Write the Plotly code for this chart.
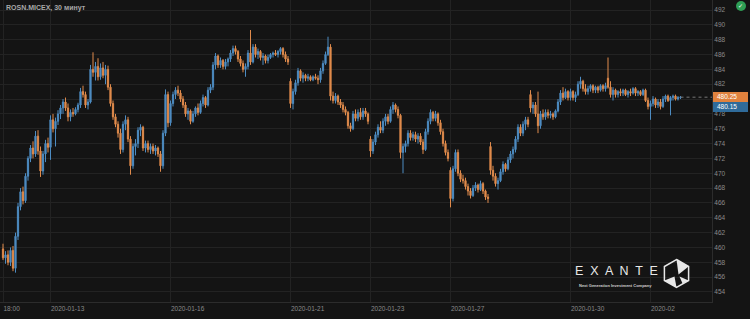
import plotly.graph_objects as go

# ---- data (30-minute candles, ROSN.MICEX) ----
open_ = [
459.8, 458.6, 459.0, 458.0, 459.6, 457.2, 461.5, 465.5, 467.5, 466.3,
469.6, 472.0, 473.4, 472.6, 475.0, 473.0, 470.3, 472.6, 474.0, 473.5,
477.2, 476.0, 477.0, 478.0, 478.8, 479.6, 478.8, 477.6, 478.2, 478.0,
478.6, 479.2, 481.0, 480.6, 479.2, 479.6, 484.0, 483.6, 484.4, 483.0,
484.2, 483.2, 484.0, 481.6, 479.4, 477.6, 476.6, 475.4, 473.2, 476.6,
477.2, 474.6, 471.0, 473.6, 474.0, 475.8, 476.2, 473.4, 474.0, 473.2,
473.6, 473.0, 473.4, 472.6, 471.0, 475.4, 480.6, 476.8, 479.4, 480.6,
481.2, 480.8, 480.0, 479.2, 478.0, 478.4, 477.0, 478.0, 478.8, 478.2,
479.4, 480.2, 479.2, 481.2, 481.6, 484.6, 485.8, 484.6, 485.2, 484.4,
485.0, 485.4, 486.2, 486.8, 486.4, 485.4, 484.8, 484.0, 484.4, 486.2,
485.0, 487.0, 486.0, 486.4, 485.6, 485.8, 485.2, 485.6, 486.0, 486.2,
486.0, 486.4, 486.8, 486.0, 485.4, 482.4, 479.4, 481.0, 482.2, 483.8,
482.8, 483.2, 482.8, 483.0, 482.6, 483.0, 482.8, 482.6, 483.8, 484.8,
486.0, 487.0, 480.4, 479.8, 480.4, 479.6, 479.2, 478.6, 478.2, 476.4,
476.0, 478.0, 477.4, 478.2, 477.6, 478.4, 478.0, 474.6, 473.0, 474.2,
475.2, 476.2, 475.8, 477.0, 477.6, 477.0, 478.6, 479.2, 478.6, 477.8,
472.8, 473.6, 474.0, 475.4, 474.8, 475.2, 474.6, 475.0, 474.2, 473.2,
475.6, 477.0, 478.2, 477.4, 478.0, 476.8, 475.6, 474.0, 472.8, 470.4,
466.6, 470.6, 472.8, 470.0, 469.2, 469.0, 468.2, 467.6, 467.0, 468.0,
468.4, 467.8, 468.6, 467.6, 466.8, 473.6, 470.4, 469.6, 468.6, 469.0,
470.2, 471.2, 470.6, 471.8, 472.6, 473.2, 474.6, 476.2, 475.4, 476.6,
477.2, 480.6, 478.8, 479.2, 478.0, 476.4, 478.0, 477.6, 478.2, 477.8,
478.0, 477.6, 478.4, 479.6, 480.8, 480.2, 481.0, 480.2, 481.0, 480.2,
480.6, 482.0, 482.4, 481.4, 481.0, 481.4, 481.8, 481.2, 481.6, 481.2,
481.8, 481.4, 482.8, 481.6, 480.6, 481.2, 480.6, 481.0, 480.8, 481.2,
480.6, 481.0, 480.8, 481.4, 480.8, 481.0, 480.6, 481.2, 479.8, 479.0,
479.4, 480.0, 479.2, 479.6, 479.0, 480.0, 480.4, 479.8, 480.2, 480.4,
480.0, 480.2]

high = [
460.5, 459.5, 459.6, 460.0, 460.2, 462.0, 466.0, 468.0, 468.2, 470.0,
472.3, 473.8, 474.3, 475.7, 475.8, 473.6, 473.0, 474.5, 474.8, 477.8,
478.0, 477.5, 478.5, 479.2, 480.0, 480.2, 479.4, 478.6, 478.8, 478.9,
479.5, 481.5, 481.8, 481.0, 480.0, 484.6, 486.3, 485.0, 485.5, 484.8,
485.0, 484.6, 484.5, 482.0, 479.8, 478.0, 477.0, 476.0, 477.0, 477.8,
477.6, 475.0, 474.0, 474.6, 476.2, 476.6, 476.4, 474.4, 474.4, 474.0,
474.0, 473.8, 473.6, 473.0, 475.8, 481.3, 481.0, 479.8, 481.0, 481.6,
481.8, 481.2, 480.4, 479.6, 478.8, 478.6, 478.4, 479.0, 479.4, 479.8,
480.6, 480.4, 481.6, 482.0, 485.0, 486.2, 486.0, 485.6, 485.4, 485.4,
485.6, 486.6, 487.2, 487.2, 486.6, 485.8, 485.2, 484.8, 486.6, 489.3,
487.4, 487.4, 486.8, 486.6, 486.2, 486.0, 486.0, 486.2, 486.4, 486.6,
486.6, 487.0, 487.0, 486.4, 485.8, 482.8, 481.4, 482.6, 484.2, 484.0,
483.6, 483.4, 483.4, 483.2, 483.2, 483.4, 483.2, 484.2, 485.2, 486.4,
488.4, 487.4, 481.0, 480.8, 480.6, 480.0, 479.6, 479.0, 478.4, 476.8,
478.4, 478.6, 478.6, 478.8, 478.8, 478.8, 478.2, 475.0, 474.6, 475.6,
476.6, 477.0, 477.4, 478.0, 478.0, 479.0, 479.6, 479.4, 479.0, 478.0,
474.0, 474.4, 475.8, 475.8, 475.6, 475.6, 475.4, 475.4, 474.6, 476.0,
477.4, 478.6, 478.4, 478.4, 478.2, 477.2, 476.0, 474.4, 473.2, 470.8,
471.0, 473.2, 473.2, 470.4, 469.8, 469.4, 468.6, 468.0, 468.4, 468.8,
468.6, 469.0, 468.8, 467.8, 467.2, 474.2, 471.0, 470.0, 469.4, 470.6,
471.6, 471.4, 472.2, 473.0, 473.6, 475.0, 476.6, 476.6, 477.0, 477.6,
477.6, 481.2, 479.6, 479.6, 481.0, 478.4, 478.6, 478.6, 478.6, 478.4,
478.2, 478.6, 480.0, 481.2, 481.6, 481.4, 481.2, 481.4, 481.2, 481.0,
482.4, 483.0, 482.6, 482.0, 481.8, 482.0, 482.0, 481.8, 481.8, 482.0,
482.0, 482.2, 485.6, 482.4, 481.6, 481.4, 481.2, 481.4, 481.4, 481.4,
481.2, 481.4, 481.6, 481.6, 481.2, 481.2, 481.4, 481.4, 480.2, 479.8,
480.4, 480.2, 480.0, 480.0, 480.4, 480.6, 480.6, 480.4, 480.6, 480.6,
480.4, 480.4]

low = [
458.3, 457.8, 457.6, 457.5, 456.8, 456.6, 461.0, 465.0, 465.8, 466.0,
469.0, 471.5, 472.0, 472.2, 472.5, 469.5, 469.8, 471.5, 472.8, 471.8,
475.5, 473.6, 476.5, 477.3, 478.0, 478.4, 477.0, 477.0, 477.6, 477.8,
478.2, 478.8, 480.2, 478.8, 478.6, 479.4, 483.0, 482.5, 482.5, 482.6,
482.8, 482.0, 481.2, 479.0, 477.2, 476.2, 474.8, 472.6, 472.8, 475.8,
474.2, 469.8, 470.6, 472.4, 473.4, 475.0, 473.0, 472.8, 472.8, 472.6,
472.6, 472.4, 472.2, 470.2, 470.6, 475.0, 476.2, 476.4, 479.0, 480.0,
480.4, 479.6, 478.8, 477.6, 477.2, 476.6, 476.8, 477.6, 477.8, 478.0,
479.0, 478.8, 479.0, 480.8, 481.2, 484.0, 484.2, 484.2, 484.0, 484.0,
484.4, 485.0, 485.8, 486.0, 485.0, 484.4, 483.6, 483.0, 484.0, 484.6,
484.8, 485.6, 485.4, 485.2, 484.6, 484.8, 484.8, 485.4, 485.6, 485.8,
485.6, 486.0, 485.6, 485.0, 484.6, 478.8, 478.6, 480.6, 481.8, 482.4,
482.2, 482.4, 482.4, 482.4, 482.4, 482.6, 482.0, 482.2, 483.4, 484.6,
485.8, 479.8, 479.4, 479.4, 479.2, 478.8, 478.2, 477.8, 476.0, 475.6,
475.8, 477.0, 477.0, 477.2, 477.2, 477.6, 476.6, 472.2, 472.6, 473.8,
474.8, 475.4, 475.4, 476.4, 476.6, 476.8, 478.0, 478.2, 477.4, 472.0,
470.0, 472.8, 473.6, 474.4, 474.4, 474.2, 474.0, 473.8, 472.6, 473.0,
475.2, 476.6, 477.0, 477.0, 476.4, 475.2, 473.6, 472.4, 471.6, 465.4,
466.2, 470.2, 469.6, 468.8, 468.6, 467.8, 467.0, 466.6, 466.8, 467.6,
467.4, 467.6, 467.2, 466.4, 466.0, 469.8, 469.0, 468.2, 467.8, 468.8,
469.8, 470.2, 470.4, 471.4, 472.0, 472.8, 474.2, 475.0, 475.0, 475.8,
476.2, 478.2, 478.0, 477.6, 475.4, 476.0, 477.2, 477.2, 477.4, 477.4,
477.2, 477.4, 478.2, 479.2, 479.8, 480.0, 479.8, 479.8, 479.8, 479.6,
480.4, 481.4, 481.0, 480.6, 480.6, 481.0, 480.8, 480.8, 480.8, 481.0,
481.0, 481.0, 481.4, 480.2, 479.8, 480.2, 480.2, 480.4, 480.4, 480.4,
480.2, 480.4, 480.6, 480.4, 480.4, 480.4, 480.4, 479.6, 478.6, 477.2,
479.0, 478.8, 478.8, 478.6, 478.8, 479.6, 479.6, 477.8, 479.8, 479.8,
479.8, 480.0]

close = [
458.6, 459.0, 458.0, 459.6, 457.2, 461.5, 465.5, 467.5, 466.3, 469.6,
472.0, 473.4, 472.6, 475.0, 473.0, 470.3, 472.6, 474.0, 473.5, 477.2,
476.0, 477.0, 478.0, 478.8, 479.6, 478.8, 477.6, 478.2, 478.0, 478.6,
479.2, 481.0, 480.6, 479.2, 479.6, 484.0, 483.6, 484.4, 483.0, 484.2,
483.2, 484.0, 481.6, 479.4, 477.6, 476.6, 475.4, 473.2, 476.6, 477.2,
474.6, 471.0, 473.6, 474.0, 475.8, 476.2, 473.4, 474.0, 473.2, 473.6,
473.0, 473.4, 472.6, 471.0, 475.4, 480.6, 476.8, 479.4, 480.6, 481.2,
480.8, 480.0, 479.2, 478.0, 478.4, 477.0, 478.0, 478.8, 478.2, 479.4,
480.2, 479.2, 481.2, 481.6, 484.6, 485.8, 484.6, 485.2, 484.4, 485.0,
485.4, 486.2, 486.8, 486.4, 485.4, 484.8, 484.0, 484.4, 486.2, 485.0,
487.0, 486.0, 486.4, 485.6, 485.8, 485.2, 485.6, 486.0, 486.2, 486.0,
486.4, 486.8, 486.0, 485.4, 485.0, 479.4, 481.0, 482.2, 483.8, 482.8,
483.2, 482.8, 483.0, 482.6, 483.0, 482.8, 482.6, 483.8, 484.8, 486.0,
487.0, 480.4, 479.8, 480.4, 479.6, 479.2, 478.6, 478.2, 476.4, 476.0,
478.0, 477.4, 478.2, 477.6, 478.4, 478.0, 477.0, 473.0, 474.2, 475.2,
476.2, 475.8, 477.0, 477.6, 477.0, 478.6, 479.2, 478.6, 477.8, 472.8,
473.6, 474.0, 475.4, 474.8, 475.2, 474.6, 475.0, 474.2, 473.2, 475.6,
477.0, 478.2, 477.4, 478.0, 476.8, 475.6, 474.0, 472.8, 472.0, 466.6,
470.6, 472.8, 470.0, 469.2, 469.0, 468.2, 467.6, 467.0, 468.0, 468.4,
467.8, 468.6, 467.6, 466.8, 466.6, 470.4, 469.6, 468.6, 469.0, 470.2,
471.2, 470.6, 471.8, 472.6, 473.2, 474.6, 476.2, 475.4, 476.6, 477.2,
476.6, 478.8, 479.2, 478.0, 476.4, 478.0, 477.6, 478.2, 477.8, 478.0,
477.6, 478.4, 479.6, 480.8, 480.2, 481.0, 480.2, 481.0, 480.2, 480.6,
482.0, 482.4, 481.4, 481.0, 481.4, 481.8, 481.2, 481.6, 481.2, 481.8,
481.4, 481.8, 481.6, 480.6, 481.2, 480.6, 481.0, 480.8, 481.2, 480.6,
481.0, 480.8, 481.4, 480.8, 481.0, 480.6, 481.2, 479.8, 479.0, 479.4,
480.0, 479.2, 479.6, 479.0, 480.0, 480.4, 479.8, 480.2, 480.4, 480.0,
480.2, 480.25]

# session-start bar indices and their axis labels
tick_index = [0, 19, 67, 115, 147, 179, 227, 259]
tick_text = ["18:00", "2020-01-13", "2020-01-16", "2020-01-21", "2020-01-23",
             "2020-01-27", "2020-01-30", "2020-02"]
price_ticks = list(range(454, 493, 2))
ask_price = 480.25
bid_price = 480.15
# the 480 label sits under the price tags in the original
price_tick_text = ["" if v == 480 else str(v) for v in price_ticks]

n = len(close)
xs = list(range(n))

BG = "#141414"
GRID = "#232323"
BLUE = "#4d8cc2"
ORANGE = "#e08b4c"
TXT = "#8a8a8a"
FONT = "Liberation Sans, Arial"

W, H = 750, 319
ML, MR, MT, MB = 0, 38, 0, 17
PW, PH = W - ML - MR, H - MT - MB

def px(x):
    return (x - ML) / PW

def py(y):
    return 1 - (y - MT) / PH

fig = go.Figure()
fig.add_trace(go.Candlestick(
    x=xs, open=open_, high=high, low=low, close=close,
    increasing=dict(line=dict(color=BLUE, width=1), fillcolor=BLUE),
    decreasing=dict(line=dict(color=ORANGE, width=1), fillcolor=ORANGE),
    whiskerwidth=0, showlegend=False, hoverinfo="skip",
))

x_end = -1.2 + PW / 2.5
shapes = [
    dict(type="line", xref="x", yref="y", x0=xs[-1], x1=x_end,
         y0=close[-1], y1=close[-1], line=dict(color="#777777", width=1, dash="dot")),
    # price tags
    dict(type="rect", xref="paper", yref="paper", x0=px(713), x1=px(748),
         y0=py(102), y1=py(92), fillcolor="#e0823e", line=dict(width=0)),
    dict(type="rect", xref="paper", yref="paper", x0=px(713), x1=px(748),
         y0=py(112), y1=py(102), fillcolor="#2f6b9a", line=dict(width=0)),
    # status dot
    dict(type="circle", xref="paper", yref="paper", x0=px(736), x1=px(746),
         y0=py(11), y1=py(1), fillcolor="#2f9e55", line=dict(width=0)),
]

# EXANTE hexagon emblem
cx, cy, r = 676.5, 273.5, 14
hx = [cx, cx + 12.1, cx + 12.1, cx, cx - 12.1, cx - 12.1]
hy = [cy - r, cy - 7, cy + 7, cy + r, cy + 7, cy - 7]
hex_path = "M " + " L ".join(f"{px(a):.5f},{py(b):.5f}" for a, b in zip(hx, hy)) + " Z"
shapes.append(dict(type="path", xref="paper", yref="paper", path=hex_path,
                   line=dict(color="#e8e8e8", width=1.5)))
tri1 = [(cx, cy - r), (cx + 12.1, cy - 7), (cx + 2, cy + 1)]
tri2 = [(cx - 12.1, cy + 7), (cx, cy + r), (cx - 2, cy + 3)]
tri3 = [(cx + 12.1, cy + 7), (cx + 3, cy + 3), (cx + 6, cy + 10)]
for tri in (tri1, tri2, tri3):
    p = "M " + " L ".join(f"{px(a):.5f},{py(b):.5f}" for a, b in tri) + " Z"
    shapes.append(dict(type="path", xref="paper", yref="paper", path=p,
                       fillcolor="#e8e8e8", line=dict(width=0)))

annotations = [
    dict(xref="paper", yref="paper", x=px(4), y=py(8), text="<b>ROSN.MICEX, 30 минут</b>",
         showarrow=False, xanchor="left", yanchor="middle",
         font=dict(family=FONT, size=7, color="#a8a8a8")),
    dict(xref="paper", yref="paper", x=px(715), y=py(97), text=f"{ask_price:.2f}",
         showarrow=False, xanchor="left", yanchor="middle",
         font=dict(family=FONT, size=6.5, color="#ffffff")),
    dict(xref="paper", yref="paper", x=px(715), y=py(107), text=f"{bid_price:.2f}",
         showarrow=False, xanchor="left", yanchor="middle",
         font=dict(family=FONT, size=6.5, color="#ffffff")),
    dict(xref="paper", yref="paper", x=px(741), y=py(6), text="✓",
         showarrow=False, xanchor="center", yanchor="middle",
         font=dict(family="DejaVu Sans", size=6, color="#ffffff")),
    dict(xref="paper", yref="paper", x=px(616), y=py(271), text="E  X  A  N  T  E",
         showarrow=False, xanchor="center", yanchor="middle",
         font=dict(family=FONT, size=12.5, color="#e8e8e8")),
    dict(xref="paper", yref="paper", x=px(615), y=py(285), text="<b>Next Generation Investment Company</b>",
         showarrow=False, xanchor="center", yanchor="middle",
         font=dict(family=FONT, size=4, color="#cfcfcf")),
]

fig.update_layout(
    width=W, height=H,
    margin=dict(l=ML, r=MR, t=MT, b=MB),
    paper_bgcolor=BG, plot_bgcolor=BG,
    shapes=shapes, annotations=annotations,
    showlegend=False,
    xaxis=dict(
        range=[-1.2, x_end], rangeslider=dict(visible=False),
        tickmode="array", tickvals=tick_index, ticktext=tick_text,
        ticklabelposition="outside right",
        showgrid=True, gridcolor=GRID, gridwidth=1, zeroline=False,
        showline=True, linecolor="#2c2c2c", ticks="",
        tickfont=dict(family=FONT, size=6.5, color=TXT),
    ),
    yaxis=dict(
        range=[492 - (302 - 10) / 7.42, 492 + 10 / 7.42], side="right",
        tickmode="array", tickvals=price_ticks, ticktext=price_tick_text,
        showgrid=True, gridcolor=GRID, gridwidth=1, zeroline=False,
        showline=True, linecolor="#2c2c2c", ticks="",
        tickfont=dict(family=FONT, size=6.5, color=TXT),
    ),
)

fig.write_html("out.html")
